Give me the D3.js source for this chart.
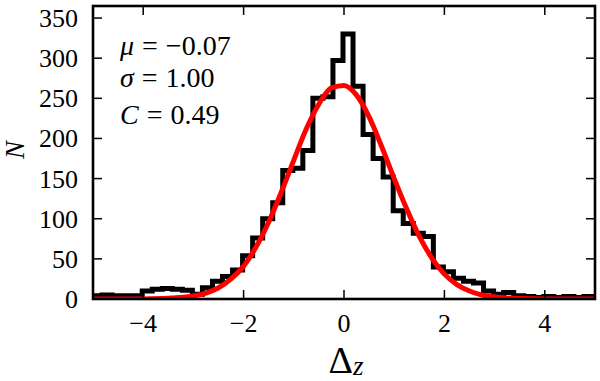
<!DOCTYPE html>
<html>
<head>
<meta charset="utf-8">
<script src="https://cdn.jsdelivr.net/npm/d3@7"></script>
</head>
<body style="margin:0">
<svg id="chart" width="600" height="381"></svg>
<script>
// histogram counts, bins of width 0.2 starting at -5.02
const binStart = -5.02;
const binWidth = 0.2;
const counts = [4, 5, 4, 4, 4, 10, 12, 13, 12, 11,
                6, 14, 22, 28, 36, 54, 76, 100, 120, 160,
                163, 185, 250, 252, 297, 330, 265, 205, 175, 152,
                110, 94, 82, 78, 40, 34, 26, 22, 20, 10,
                6, 8, 4, 3, 2, 3, 2, 3, 2, 3, 2];

// fitted curve
const fitX = [-5, -4.5, -4, -3.5, -3, -2.75, -2.5, -2.25, -2, -1.75, -1.5, -1.25, -1, -0.75, -0.5, -0.25,
              0, 0.25, 0.5, 0.75, 1, 1.25, 1.5, 1.75, 2, 2.25, 2.5, 2.75, 3, 3.5, 4, 4.5, 5];
const fitY = [0, 0, 0.1, 0.8, 3.7, 7.4, 14, 25, 41, 65, 96, 133, 173, 212, 243, 263,
              266, 254, 227, 190, 150, 112, 78, 51, 31, 18, 10, 5, 2.4, 0.5, 0, 0, 0];

const xTicks = [-4, -2, 0, 2, 4];
const yTicks = [0, 50, 100, 150, 200, 250, 300, 350];
const statLines = [["μ", "−0.07"], ["σ", "1.00"], ["C", "0.49"]];

const serif = "'Liberation Serif'";

const svg = d3.select("#chart");
const margin = {top: 6, right: 5, bottom: 82, left: 93};
const width = 600 - margin.left - margin.right;
const height = 381 - margin.top - margin.bottom;

const x = d3.scaleLinear().domain([-5, 5]).range([0, width]);
const y = d3.scaleLinear().domain([0, 365]).range([height, 0]);

const g = svg.append("g")
    .attr("transform", "translate(" + margin.left + "," + margin.top + ")");

g.append("clipPath").attr("id", "clip")
  .append("rect").attr("width", width).attr("height", height);

// step histogram
const steps = counts.map((c, i) => [binStart + i * binWidth, c]);
steps.push([binStart + counts.length * binWidth, counts[counts.length - 1]]);

g.append("path")
    .datum(steps)
    .attr("clip-path", "url(#clip)")
    .attr("fill", "none")
    .attr("stroke", "#000")
    .attr("stroke-width", 5)
    .attr("d", d3.line().x(d => x(d[0])).y(d => y(d[1])).curve(d3.curveStepAfter));

// fit curve
g.append("path")
    .datum(fitX.map((v, i) => [v, fitY[i]]))
    .attr("clip-path", "url(#clip)")
    .attr("fill", "none")
    .attr("stroke", "#ff0000")
    .attr("stroke-width", 5)
    .attr("d", d3.line().x(d => x(d[0])).y(d => y(d[1])).curve(d3.curveMonotoneX));

// tick marks, inside on all four sides
const tickLen = 9;
g.append("g").selectAll("line").data(xTicks).join("line")
    .attr("x1", d => x(d)).attr("x2", d => x(d)).attr("y1", height).attr("y2", height - tickLen)
    .attr("stroke", "#000").attr("stroke-width", 1.5);
g.append("g").selectAll("line").data(xTicks).join("line")
    .attr("x1", d => x(d)).attr("x2", d => x(d)).attr("y1", 0).attr("y2", tickLen)
    .attr("stroke", "#000").attr("stroke-width", 1.5);
g.append("g").selectAll("line").data(yTicks).join("line")
    .attr("x1", 0).attr("x2", tickLen).attr("y1", d => y(d)).attr("y2", d => y(d))
    .attr("stroke", "#000").attr("stroke-width", 1.5);
g.append("g").selectAll("line").data(yTicks).join("line")
    .attr("x1", width).attr("x2", width - tickLen).attr("y1", d => y(d)).attr("y2", d => y(d))
    .attr("stroke", "#000").attr("stroke-width", 1.5);

g.append("rect")
    .attr("width", width).attr("height", height)
    .attr("fill", "none").attr("stroke", "#000").attr("stroke-width", 2.6);

// tick labels
svg.selectAll("text.xt").data(xTicks).join("text")
    .attr("class", "xt")
    .attr("x", d => margin.left + x(d)).attr("y", margin.top + height + 33)
    .attr("text-anchor", "middle")
    .attr("font-size", 26)
    .style("font-family", serif)
    .text(d => d < 0 ? "−" + Math.abs(d) : d);

svg.selectAll("text.yt").data(yTicks).join("text")
    .attr("class", "yt")
    .attr("x", margin.left - 15).attr("y", d => margin.top + y(d) + 9)
    .attr("text-anchor", "end")
    .attr("font-size", 26)
    .style("font-family", serif)
    .text(d => d);

// stats text
svg.selectAll("text.st").data(statLines).join("text")
    .attr("class", "st")
    .attr("x", margin.left + 27)
    .attr("y", (d, i) => margin.top + [49, 81, 118][i])
    .attr("font-size", 28)
    .style("font-family", serif)
    .each(function(s) {
      const t = d3.select(this);
      t.append("tspan").attr("font-style", "italic").text(s[0]);
      t.append("tspan").attr("dx", 8).text("=");
      t.append("tspan").attr("dx", 8).text(s[1]);
    });

// axis labels
svg.append("text")
    .attr("transform", "translate(24,150) rotate(-90)")
    .attr("text-anchor", "middle")
    .attr("font-size", 27)
    .attr("font-style", "italic")
    .style("font-family", serif)
    .text("N");

const xl = svg.append("text")
    .attr("x", 346).attr("y", 373)
    .attr("text-anchor", "middle")
    .attr("font-size", 38)
    .style("font-family", serif);
xl.append("tspan").text("Δ");
xl.append("tspan").attr("dy", 2).attr("font-size", 27).attr("font-style", "italic").text("z");
</script>
</body>
</html>
